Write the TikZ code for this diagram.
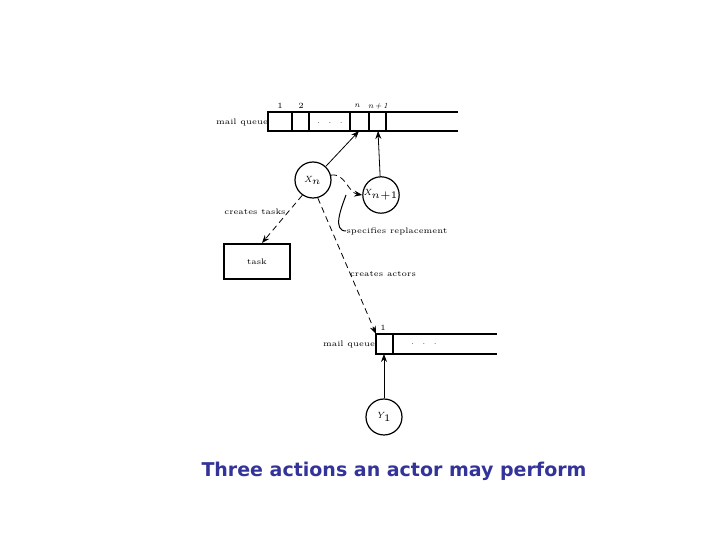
\documentclass[tikz,border=0pt]{standalone}
\usepackage{fontspec}
\newfontfamily\titlefont{DejaVu Sans}
\usetikzlibrary{arrows.meta}
\definecolor{titleblue}{RGB}{51,51,153}
\begin{document}
\begin{tikzpicture}[x=0.5pt,y=-0.5pt,
  lbl/.style={font=\fontsize{4}{5}\selectfont,inner sep=0pt},
  circ/.style={circle,draw,line width=0.6pt,minimum size=18pt,inner sep=0pt,font=\fontsize{4.5}{5}\selectfont\itshape},
  arr/.style={-{Stealth[length=4pt,width=3pt]},line width=0.4pt},
  darr/.style={arr,dashed,dash pattern=on 3pt off 2pt}]
\useasboundingbox (0,0) rectangle (720,540);
% top queue
\draw[line width=0.6pt] (458,112) -- (268,112) -- (268,131) -- (458,131);
\foreach \x in {292,309,350,369,386} \draw[line width=0.6pt] (\x,112) -- (\x,131);
\node[lbl] (q1) at (280,106) {1};
\node[lbl] (q2) at (301,106) {2};
\node[lbl] (qn) at (357,106) {\itshape n};
\node[lbl] (qn1) at (378,106) {\itshape n\,+\,1};
\node[lbl] (mq1) at (242,123) {mail queue};
\node[lbl] (d1) at (330,123) {.\quad.\quad.};
\coordinate (cn) at (359,131);
\coordinate (cn1) at (378,131);
% circles
\node[circ] (xn) at (313,180) {X$_n$};
\node[circ] (xn1) at (381,195) {X$_{n+1}$};
\draw[arr] (xn) -- (cn);
\draw[arr] (xn1) -- (cn1);
\draw[darr] (xn.15) to[out=10,in=170] (xn1.west);
\node[lbl] (spec) at (397,231) {specifies replacement};
\draw[line width=0.5pt] (346,195) to[out=250,in=180] (spec.west);
% task
\node[draw,line width=0.6pt,minimum width=33pt,minimum height=17.5pt,lbl] (task) at (257,261.5) {task};
\draw[darr] (xn.235) -- (262,243);
\node[lbl] (ct) at (255,212) {creates tasks};
% second queue
\draw[line width=0.6pt] (497,334) -- (376,334) -- (376,354) -- (497,354);
\draw[line width=0.6pt] (393,334) -- (393,354);
\coordinate (q2c) at (376,334);
\node[lbl] (p1) at (383,328) {1};
\node[lbl] (mq2) at (349,345) {mail queue};
\node[lbl] (d2) at (424,344) {.\quad.\quad.};
\draw[darr] (xn.285) -- (q2c);
\node[lbl] (ca) at (383,274) {creates actors};
\node[circ] (y1) at (384,417) {Y$_1$};
\coordinate (q2b) at (384,354);
\draw[arr] (y1) -- (q2b);
% title
\node[font=\titlefont\bfseries\fontsize{9.5}{11}\selectfont,text=titleblue] (title) at (394,471) {Three actions an actor may perform};
\end{tikzpicture}
\end{document}
